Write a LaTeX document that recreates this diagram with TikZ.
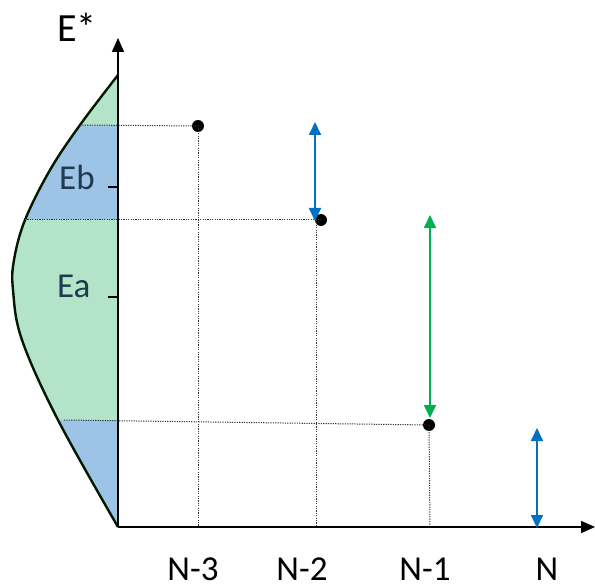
\documentclass[tikz,border=0pt]{standalone}
\usepackage{fontspec}
\setmainfont{Carlito}
\usetikzlibrary{arrows.meta}
\definecolor{fgreen}{HTML}{B3E4C9}
\definecolor{fblue}{HTML}{9DC3E6}
\definecolor{ablue}{HTML}{0070C0}
\definecolor{agreen}{HTML}{00B050}
\definecolor{lbl}{HTML}{1F3B4D}
\tikzset{
  axisline/.style={line width=1.6pt,-{Triangle[width=12pt,length=14pt]}},
  guide/.style={dash pattern=on 1.2pt off 1.2pt,line width=1pt,black!80},
  dbl/.style={line width=1.8pt,{Triangle[width=12pt,length=13pt]}-{Triangle[width=12pt,length=13pt]}},
  big/.style={font=\fontsize{35}{40}\selectfont,inner sep=0pt},
  dot/.style={circle,fill=black,inner sep=0pt,minimum size=12pt}
}
\begin{document}
\begin{tikzpicture}[x=1pt,y=-1pt]
\useasboundingbox (0,0) rectangle (595,588);
\def\curvepath{plot[smooth,tension=0.6] coordinates {(118,75) (80,125) (50,170) (25,220) (14,260) (13,290) (22,340) (58,420) (118,527)}}
% fill
\fill[fgreen] \curvepath -- cycle;
\begin{scope}
\clip \curvepath -- cycle;
\fill[fblue] (0,125) rectangle (118,220);
\fill[fblue] (0,420) rectangle (118,527);
\end{scope}
\draw[line width=2.4pt,black!90!green] \curvepath;
% coordinates
\coordinate (O) at (118,527);
\coordinate (Ytop) at (118,38);
\coordinate (Xend) at (595,527);
\coordinate (c1) at (80,125);
\coordinate (c2) at (25,220);
\coordinate (c3) at (64,420);
\node[dot] (d1) at (198,126) {};
\node[dot] (d2) at (321,220) {};
\node[dot] (d3) at (429,425) {};
\coordinate (b1) at (198,527);
\coordinate (b2) at (316,527);
\coordinate (b3) at (430,527);
% guides
\draw[guide] (c1) -- (d1.center);
\draw[guide] (c2) -- (d2.center);
\draw[guide] (c3) -- (d3.center);
\draw[guide] (d1.center) -- (b1);
\draw[guide] (316,220) -- (b2);
\draw[guide] (d3.center) -- (b3);
% ticks
\coordinate (t1a) at (108,187); \coordinate (t1b) at (118,187);
\coordinate (t2a) at (108,297); \coordinate (t2b) at (118,297);
\draw[line width=1.2pt] (t1a) -- (t1b);
\draw[line width=1.2pt] (t2a) -- (t2b);
% axes
\draw[axisline] (O) -- (Ytop);
\draw[axisline] (O) -- (Xend);
% double arrows
\coordinate (a1t) at (315,122); \coordinate (a1b) at (315,221);
\coordinate (a2t) at (430,215); \coordinate (a2b) at (430,418);
\coordinate (a3t) at (537,428); \coordinate (a3b) at (537,528);
\draw[dbl,ablue] (a1t) -- (a1b);
\draw[dbl,agreen] (a2t) -- (a2b);
\draw[dbl,ablue] (a3t) -- (a3b);
% labels
\node[big,font=\fontsize{40}{44}\selectfont,anchor=base west] (E) at (57,42) {E*};
\node[big,text=lbl,anchor=base west] (Eb) at (59,190) {Eb};
\node[big,text=lbl,anchor=base west] (Ea) at (57,298) {Ea};
\node[big,anchor=base] (n3) at (193,580) {N-3};
\node[big,anchor=base] (n2) at (302,580) {N-2};
\node[big,anchor=base] (n1) at (425,580) {N-1};
\node[big,anchor=base] (n0) at (547,580) {N};
\end{tikzpicture}
\end{document}
